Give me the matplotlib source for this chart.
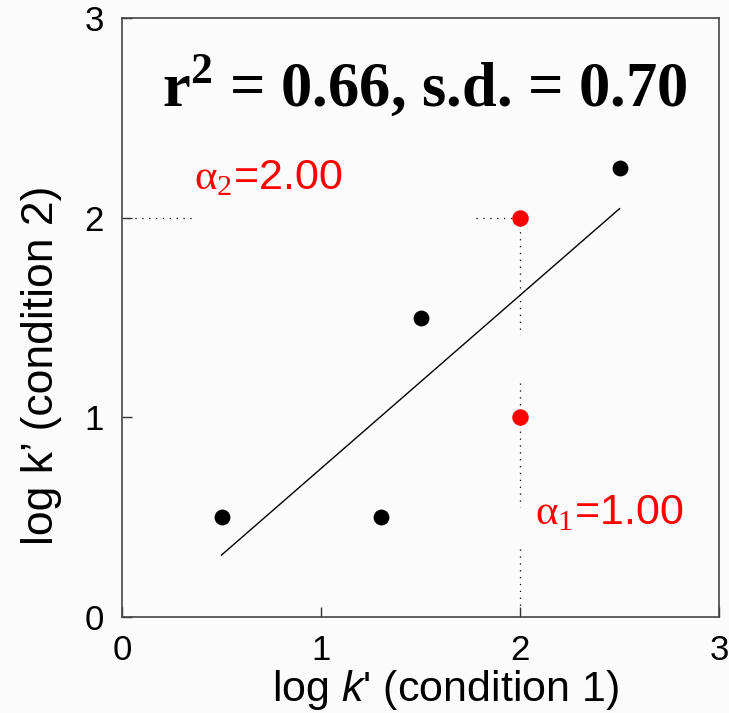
import matplotlib
matplotlib.use("Agg")
import matplotlib.pyplot as plt

# data
black_x = [0.5, 1.3, 1.5, 2.5]
black_y = [0.5, 0.5, 1.5, 2.25]
red_x = [2.0, 2.0]
red_y = [2.0, 1.0]
fit_x = [0.5, 2.5]
fit_y = [0.31, 2.045]
# dotted guide segments (x0, x1, y0, y1)
guide_h = [(0.03, 0.36, 2.0, 2.0), (1.78, 2.0, 2.0, 2.0)]
guide_v = [(2.0, 2.0, 2.0, 1.41), (2.0, 2.0, 1.17, 0.55), (2.0, 2.0, 0.34, 0.04)]
ticks = [0, 1, 2, 3]
tick_labels = ["0", "1", "2", "3"]

plt.rcParams['mathtext.fontset'] = 'custom'
plt.rcParams['mathtext.rm'] = 'Liberation Serif'
plt.rcParams['mathtext.it'] = 'Liberation Sans:italic'
plt.rcParams['mathtext.bf'] = 'Liberation Serif:bold'

bg = '#fbfbfb'
fig = plt.figure(figsize=(7.29, 7.13), dpi=100, facecolor=bg)
ax = fig.add_axes([122/729, 1 - 617/713, 597/729, 599/713], facecolor=bg)

for x0, x1, y0, y1 in guide_h + guide_v:
    ax.plot([x0, x1], [y0, y1], color='black', lw=0.9, dashes=(1, 4.5), zorder=1)

ax.plot(fit_x, fit_y, color='black', lw=1.0, zorder=2)
ax.scatter(black_x, black_y, s=130, color='black', zorder=3, linewidths=0)
ax.scatter(red_x, red_y, s=140, color='#ff0000', zorder=3, linewidths=0)

ax.set_xlim(0, 3)
ax.set_ylim(0, 3)
ax.set_xticks(ticks)
ax.set_xticklabels(tick_labels)
ax.set_yticks(ticks)
ax.set_yticklabels(tick_labels)
ax.tick_params(direction='in', length=7, width=1, color='#333333',
               labelsize=25)
ax.tick_params(axis='x', pad=12)
ax.tick_params(axis='y', pad=13)
for lab in ax.get_xticklabels() + ax.get_yticklabels():
    lab.set_fontfamily('Liberation Sans')
for sp in ax.spines.values():
    sp.set_color('#444444')
    sp.set_linewidth(1.2)

ax.set_xlabel(r"log $k$' (condition 1)", fontsize=31, fontfamily='Liberation Sans')
ax.xaxis.set_label_coords(0.541, -0.085)
ax.set_ylabel("log k\u2019 (condition 2)", fontsize=32, fontfamily='Liberation Sans')
ax.yaxis.set_label_coords(-0.10, 0.42)

ax.text(0.2, 2.56, r"r$^{\mathbf{2}}$ = 0.66, s.d. = 0.70", fontsize=45,
        fontfamily='Liberation Serif', fontweight='bold', ha='left', va='baseline')
ax.text(0.364, 2.143, r"$\mathrm{\alpha}_{\mathrm{2}}$=2.00", fontsize=31,
        fontfamily='Liberation Sans', color='#ff0000', ha='left', va='baseline')
ax.text(2.075, 0.466, r"$\mathrm{\alpha}_{\mathrm{1}}$=1.00", fontsize=31,
        fontfamily='Liberation Sans', color='#ff0000', ha='left', va='baseline')

fig.savefig('out.png', dpi=100, facecolor=bg)
